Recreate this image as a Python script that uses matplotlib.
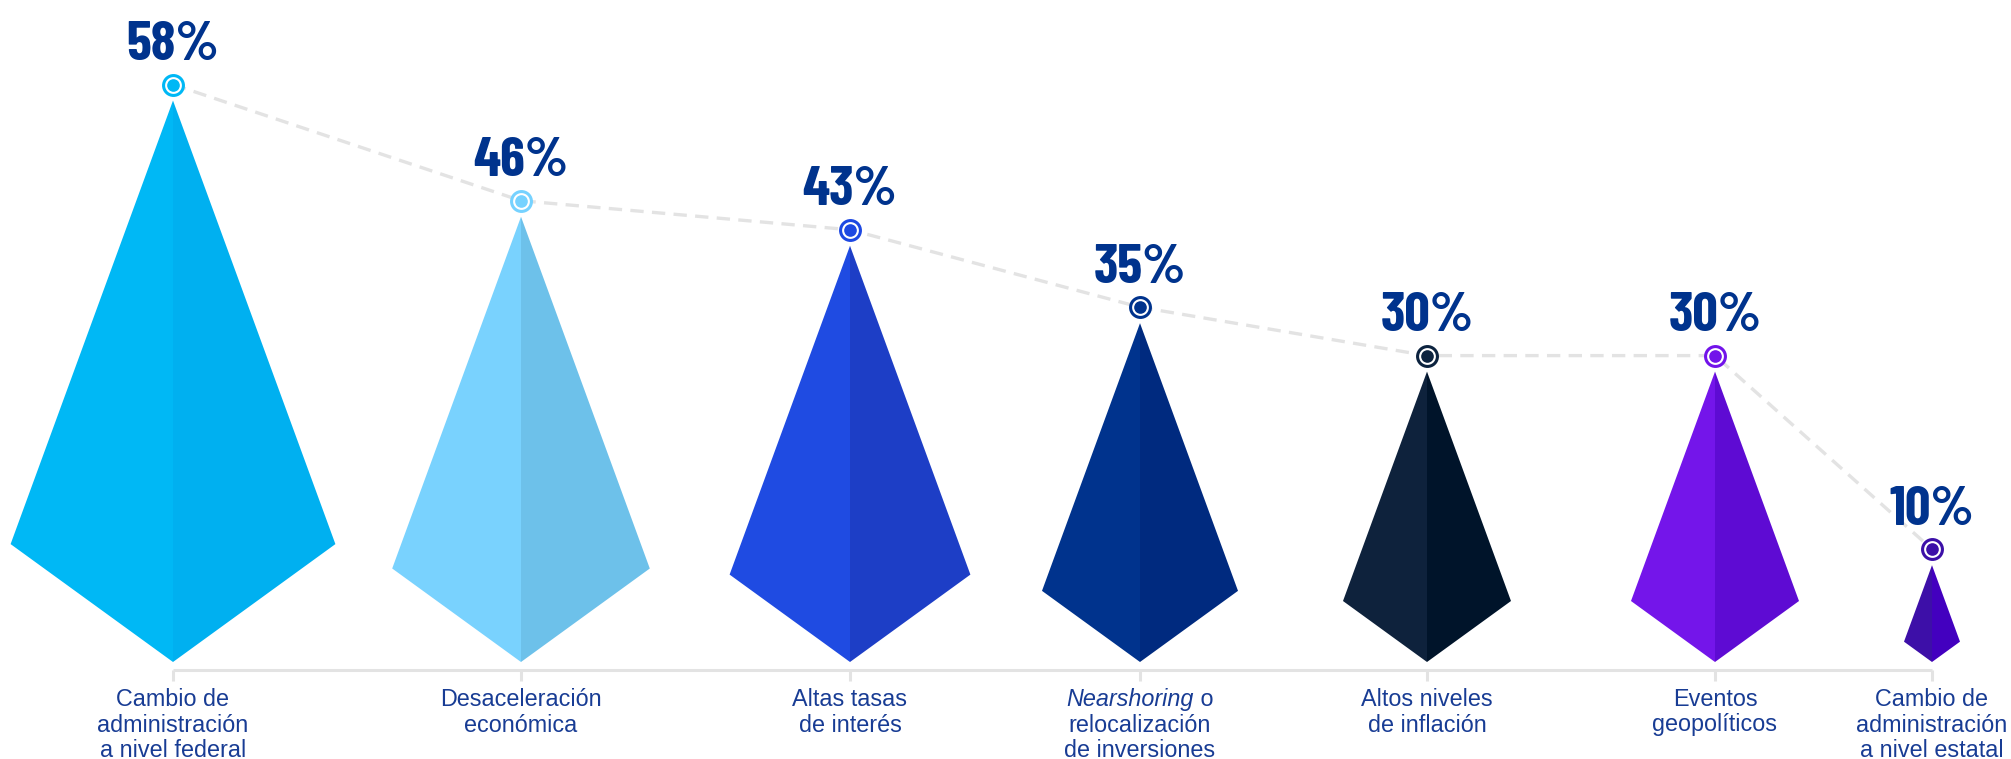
import matplotlib
matplotlib.use("Agg")
import matplotlib.pyplot as plt
from matplotlib.patches import Polygon

# ---- data ----
categories = [
    "Cambio de\nadministración\na nivel federal",
    "Desaceleración\neconómica",
    "Altas tasas\nde interés",
    "Nearshoring o\nrelocalización\nde inversiones",
    "Altos niveles\nde inflación",
    "Eventos\ngeopolíticos",
    "Cambio de\nadministración\na nivel estatal",
]
values = [58, 46, 43, 35, 30, 30, 10]
italic_words = {"Nearshoring"}

left_colors = ["#00B8F5", "#79D2FE", "#1F4BE2", "#00338D", "#0E223C", "#7415EA", "#3D0FA8"]
right_colors = ["#00B0F0", "#6DC1EA", "#1D3EC6", "#002A7F", "#00142A", "#5E0BD3", "#4300BF"]
marker_colors = ["#00B8F5", "#76D2FF", "#1E49E2", "#00338D", "#0C233F", "#7213EA", "#3C10A8"]

# ---- layout (pixels of the 2011x759 canvas) ----
W, H = 2011, 759
X_POS = [173, 521, 850, 1140, 1427, 1715, 1932]
PX = 9.68          # px per percentage point (height)
HALF_W = 2.8       # px of half-width per percentage point
SHOULDER = 0.21    # side corners, as a fraction of the height
BASE_PX = 662      # y of the pyramid bottoms
PCT_COLOR = "#00338D"
CAT_COLOR = "#183C94"
GREY = "#E3E3E3"
PCT_FONT = ["Barlow Condensed", "Oswald", "Archivo Narrow", "DejaVu Sans"]


def dy(px):
    return px / PX


fig = plt.figure(figsize=(W / 100, H / 100), dpi=100)
ax = fig.add_axes([0, 0, 1, 1])
ax.set_xlim(0, W)
ax.set_ylim(-dy(H - BASE_PX), dy(BASE_PX))
ax.axis("off")

# pyramids: two halves each, the right one a shade darker
for x, v, cl, cr in zip(X_POS, values, left_colors, right_colors):
    hw = HALF_W * v
    sh = SHOULDER * v
    ax.add_patch(Polygon([(x, 0), (x - hw, sh), (x, v)], closed=True,
                         facecolor=cl, edgecolor="none", zorder=2))
    ax.add_patch(Polygon([(x, 0), (x + hw, sh), (x, v)], closed=True,
                         facecolor=cr, edgecolor="none", zorder=2))

# dashed connector + ring markers + value labels
mark_y = [v + dy(16) for v in values]
ax.plot(X_POS, mark_y, color=GREY, lw=2.4, ls=(0, (4, 2.5)), zorder=1)
for x, my, c, v in zip(X_POS, mark_y, marker_colors, values):
    ax.plot(x, my, "o", ms=14.3, mfc="white", mec=c, mew=2.2, zorder=4)
    ax.plot(x, my, "o", ms=9.1, color=c, mec="none", zorder=5)
    ax.annotate(f"{v}%", (x, my), xytext=(0, 17.5), textcoords="offset points",
                ha="center", va="baseline", fontsize=40.5, fontweight="bold",
                color=PCT_COLOR, family=PCT_FONT)

# baseline + ticks
base_y = -dy(8)
ax.plot([X_POS[0], X_POS[-1]], [base_y, base_y], color=GREY, lw=2.2,
        solid_capstyle="butt", zorder=1)
for x in X_POS:
    ax.plot([x, x], [base_y, base_y - dy(11)], color=GREY, lw=2.2,
            solid_capstyle="butt", zorder=1)

# category labels (one text per line, italic word handled separately)
renderer = fig.canvas.get_renderer()
txt_kw = dict(fontsize=16.8, color=CAT_COLOR, family=["Liberation Sans", "DejaVu Sans"],
              va="baseline")
for x, cat in zip(X_POS, categories):
    for i, line in enumerate(cat.split("\n")):
        y = -dy(706 - BASE_PX + 25.5 * i)
        first, _, rest = line.partition(" ")
        if first in italic_words:
            t1 = ax.text(x, y, first, ha="left", style="italic", **txt_kw)
            t2 = ax.text(x, y, " " + rest, ha="left", **txt_kw)
            w1 = t1.get_window_extent(renderer).width
            w2 = t2.get_window_extent(renderer).width
            x0 = x - (w1 + w2) / 2
            t1.set_x(x0)
            t2.set_x(x0 + w1)
        else:
            ax.text(x, y, line, ha="center", **txt_kw)

fig.savefig("out.png", dpi=100)
